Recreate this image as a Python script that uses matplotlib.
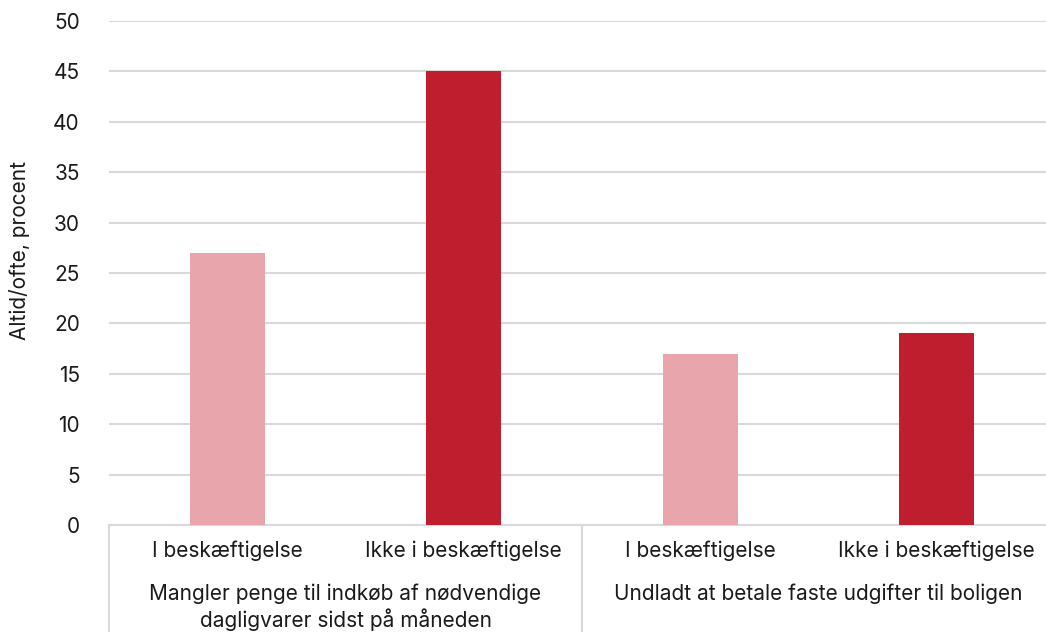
import matplotlib

matplotlib.use("Agg")
import matplotlib.pyplot as plt
import numpy as np

plt.rcParams["font.family"] = ["Inter", "DejaVu Sans"]

GROUPS = ["Mangler penge til indkøb af nødvendige\ndagligvarer sidst på måneden",
          "Undladt at betale faste udgifter til boligen"]
SUBCATS = ["I beskæftigelse", "Ikke i beskæftigelse",
           "I beskæftigelse", "Ikke i beskæftigelse"]
VALUES = [27, 45, 17, 19]
COLORS = ["#E8A6AC", "#BE1E2D", "#E8A6AC", "#BE1E2D"]
YTICKS = list(range(0, 51, 5))

W, H = 1046, 632
GRID = "#d9d9d9"
TXT = "#1a1a1a"
FS = 15

fig = plt.figure(figsize=(W / 100, H / 100), dpi=100)
left, right, bottom, top = 109, 1055, 525, 21
ax = fig.add_axes([left / W, (H - bottom) / H, (right - left) / W, (bottom - top) / H])

x = np.arange(len(VALUES))
ax.bar(x, VALUES, width=0.317, color=COLORS, zorder=3)
ax.set_xlim(-0.5, len(VALUES) - 0.5)
ax.set_ylim(0, 50)
ax.set_yticks(YTICKS)
ax.tick_params(axis="y", length=0, pad=21, labelsize=FS, labelcolor=TXT)
ax.set_xticks([])
ax.grid(axis="y", color=GRID, lw=1.5, zorder=0)
for s in ["top", "right", "left"]:
    ax.spines[s].set_visible(False)
ax.spines["bottom"].set_color(GRID)
ax.spines["bottom"].set_linewidth(1.5)
ax.set_ylabel("Altid/ofte, procent", fontsize=FS, color=TXT)
ax.yaxis.set_label_coords(-79 / (right - left), (525 - 250) / 504)

# multi-level category axis
trans = ax.get_xaxis_transform()
for xi, lab in zip(x, SUBCATS):
    ax.text(xi, -26 / 504, lab, transform=trans, ha="center", va="center",
            fontsize=FS, color=TXT, clip_on=False)
for gi, lab in enumerate(GROUPS):
    xc = gi * 2 + 0.5
    ax.text(xc, -59 / 504, lab, transform=trans, ha="center", va="top",
            fontsize=FS, color=TXT, linespacing=1.2, clip_on=False)
for xs in [-0.5, 1.5, 3.5]:
    ax.plot([xs, xs], [0, -110 / 504], transform=trans, color=GRID, lw=1.5,
            clip_on=False)

fig.savefig("out.png", dpi=100)
